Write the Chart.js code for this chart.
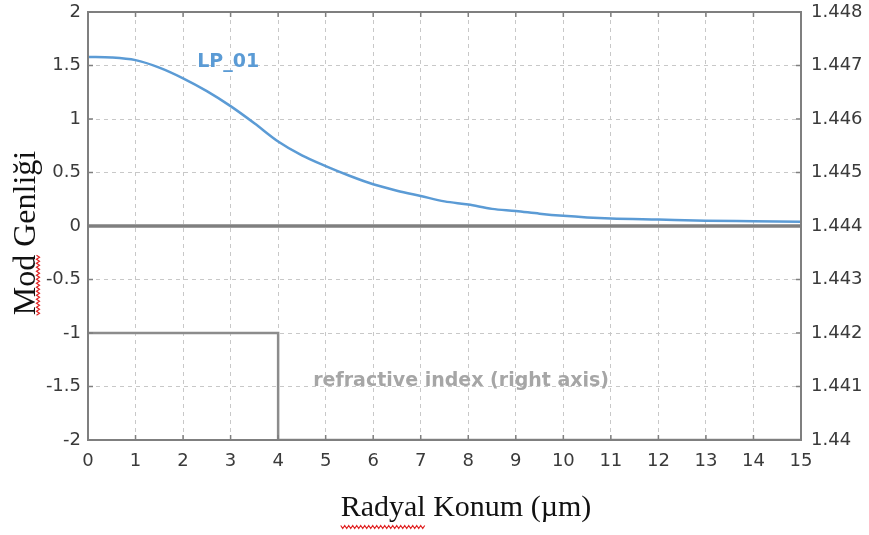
<!DOCTYPE html>
<html>
<head>
<meta charset="utf-8">
<script src="https://cdn.jsdelivr.net/npm/chart.js@4.4.1/dist/chart.umd.min.js"></script>
<style>
  html, body { margin: 0; padding: 0; background: #fff; }
  #wrap { width: 869px; height: 535px; }
</style>
</head>
<body>
<div id="wrap"><canvas id="chart" width="869" height="535"></canvas></div>
<script>
// mode amplitude (left axis)
const radius = [0, 0.5, 1, 1.5, 2, 2.5, 3, 3.5, 4, 4.5, 5, 5.5, 6, 6.5, 7, 7.5, 8, 8.5, 9, 9.5, 10, 10.5, 11, 12, 13, 14, 15];
const lp01 = [1.58, 1.575, 1.55, 1.48, 1.38, 1.26, 1.12, 0.96, 0.79, 0.66, 0.56, 0.47, 0.39, 0.33, 0.28, 0.23, 0.2, 0.16, 0.14, 0.115, 0.095, 0.08, 0.07, 0.06, 0.05, 0.045, 0.04];

// refractive index profile (right axis)
const indexR = [0, 4, 4, 15];
const indexN = [1.442, 1.442, 1.440, 1.440];

const zeroLine = [[0, 0], [15, 0]];

const xTicks = [0, 1, 2, 3, 4, 5, 6, 7, 8, 9, 10, 11, 12, 13, 14, 15];
const yTicks = [-2, -1.5, -1, -0.5, 0, 0.5, 1, 1.5, 2];
const y2Ticks = [1.44, 1.441, 1.442, 1.443, 1.444, 1.445, 1.446, 1.447, 1.448];

const notes = [
  { text: 'LP_01', x: 2.95, y: 1.53, axis: 'y', color: '#5b9bd5' },
  { text: 'refractive index (right axis)', x: 7.85, y: 1.4411, axis: 'y2', color: '#a6a6a6' }
];

const xTitle = 'Radyal Konum (µm)';
const yTitle = 'Mod Genliği';

const tickFont = { family: 'DejaVu Sans', size: 18 };
const tickColor = '#3a3a3a';

function squiggle(ctx, x0, x1, y) {
  ctx.beginPath();
  for (let x = x0, k = 0; x <= x1; x += 2, k++) {
    const yy = y + (k % 2 ? 1.5 : -1.5);
    if (k === 0) ctx.moveTo(x, yy); else ctx.lineTo(x, yy);
  }
  ctx.stroke();
}

const frame = {
  id: 'frame',
  afterDatasetsDraw(chart) {
    const { ctx, chartArea: a, scales } = chart;
    ctx.save();
    ctx.strokeStyle = '#7f7f7f';
    ctx.lineWidth = 2;
    ctx.strokeRect(a.left, a.top, a.right - a.left, a.bottom - a.top);

    // small inner tick marks
    ctx.lineWidth = 1.5;
    ctx.beginPath();
    xTicks.forEach(v => {
      const px = scales.x.getPixelForValue(v);
      ctx.moveTo(px, a.bottom); ctx.lineTo(px, a.bottom - 5);
      ctx.moveTo(px, a.top); ctx.lineTo(px, a.top + 5);
    });
    yTicks.forEach(v => {
      const py = scales.y.getPixelForValue(v);
      ctx.moveTo(a.left, py); ctx.lineTo(a.left + 5, py);
      ctx.moveTo(a.right, py); ctx.lineTo(a.right - 5, py);
    });
    ctx.stroke();

    ctx.font = 'bold 19px "DejaVu Sans"';
    ctx.textAlign = 'center';
    ctx.textBaseline = 'middle';
    notes.forEach(n => {
      ctx.fillStyle = n.color;
      ctx.fillText(n.text, scales.x.getPixelForValue(n.x), scales[n.axis].getPixelForValue(n.y));
    });

    // axis titles
    ctx.fillStyle = '#111';
    ctx.font = '30px "Liberation Serif"';
    ctx.fillText(xTitle, 466, 508);
    const xl = 466 - ctx.measureText(xTitle).width / 2;
    const xw = ctx.measureText('Radyal').width;
    ctx.save();
    ctx.translate(27, 233);
    ctx.rotate(-Math.PI / 2);
    ctx.font = '32px "Liberation Serif"';
    ctx.fillText(yTitle, 0, 0);
    const yw = ctx.measureText(yTitle).width;
    const mw = ctx.measureText('Mod').width;
    ctx.restore();

    // spell-check marks
    ctx.strokeStyle = '#e02020';
    ctx.lineWidth = 1.2;
    squiggle(ctx, xl, xl + xw, 527);
    ctx.save();
    ctx.translate(38, 233);
    ctx.rotate(-Math.PI / 2);
    squiggle(ctx, -yw / 2, -yw / 2 + mw, 0);
    ctx.restore();
    ctx.restore();
  }
};

const noPad = s => { s.paddingTop = 0; s.paddingBottom = 0; };

new Chart(document.getElementById('chart'), {
  type: 'scatter',
  data: {
    datasets: [
      {
        label: 'zero',
        data: zeroLine.map(p => ({ x: p[0], y: p[1] })),
        showLine: true, borderColor: '#7f7f7f', borderWidth: 3.5, pointRadius: 0, yAxisID: 'y'
      },
      {
        label: 'refractive index',
        data: indexR.map((r, i) => ({ x: r, y: indexN[i] })),
        showLine: true, borderColor: '#8c8c8c', borderWidth: 2.5, pointRadius: 0, yAxisID: 'y2'
      },
      {
        label: 'LP_01',
        data: radius.map((r, i) => ({ x: r, y: lp01[i] })),
        showLine: true, borderColor: '#5b9bd5', borderWidth: 2.5, pointRadius: 0,
        cubicInterpolationMode: 'monotone', yAxisID: 'y'
      }
    ]
  },
  options: {
    responsive: false,
    animation: false,
    layout: { padding: { top: 12, left: 0, right: 0, bottom: 0 } },
    plugins: { legend: { display: false }, tooltip: { enabled: false } },
    scales: {
      x: {
        type: 'linear', min: 0, max: 15,
        afterBuildTicks: s => { s.ticks = xTicks.map(v => ({ value: v })); },
        afterFit: s => { s.height = 95; },
        grid: { color: '#c8c8c8', drawTicks: false },
        border: { display: false, dash: [4, 4] },
        ticks: { font: tickFont, color: tickColor, padding: 11, maxRotation: 0, callback: v => String(v) }
      },
      y: {
        type: 'linear', position: 'left', min: -2, max: 2,
        afterBuildTicks: s => { s.ticks = yTicks.map(v => ({ value: v })); },
        afterFit: s => { s.width = 88; noPad(s); },
        grid: { color: '#c8c8c8', drawTicks: false },
        border: { display: false, dash: [4, 4] },
        ticks: { font: tickFont, color: tickColor, padding: 7, callback: v => String(v) }
      },
      y2: {
        type: 'linear', position: 'right', min: 1.44, max: 1.448,
        afterBuildTicks: s => { s.ticks = y2Ticks.map(v => ({ value: v })); },
        afterFit: s => { s.width = 68; noPad(s); },
        grid: { display: false, drawTicks: false },
        border: { display: false },
        ticks: { font: tickFont, color: tickColor, padding: 10, callback: v => String(+v.toFixed(3)) }
      }
    }
  },
  plugins: [frame]
});
</script>
</body>
</html>
